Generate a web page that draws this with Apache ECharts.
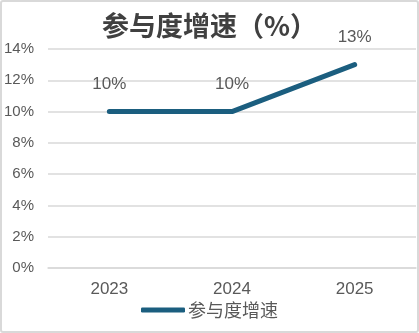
<!DOCTYPE html>
<html>
<head>
<meta charset="utf-8">
<script src="https://cdn.jsdelivr.net/npm/echarts@6/dist/echarts.min.js"></script>
<style>
  html, body { margin: 0; padding: 0; background: #fff; }
  #frame { position: absolute; left: 0; top: 0; width: 415px; height: 329px; border: 2px solid #d9d9d9; border-radius: 3px; }
  #chart { position: absolute; left: 0; top: 0; width: 419px; height: 333px; }
</style>
</head>
<body>
<div id="frame"></div>
<div id="chart"></div>
<script>
const years = ['2023', '2024', '2025'];
const growth = [10, 10, 13];
const seriesName = '参与度增速';
const yTicks = { min: 0, max: 14, step: 2 };

const chart = echarts.init(document.getElementById('chart'));
const latin = '"Liberation Sans", sans-serif';
const cjk = '"Noto Sans CJK SC", sans-serif';
const lineColor = '#1b5e7f';
chart.setOption({
  animation: false,
  title: {
    text: '参与度增速（%）',
    left: 'center',
    top: 7,
    textStyle: { fontFamily: cjk, fontSize: 27, fontWeight: 'bold', color: '#404040' }
  },
  grid: { left: 48, right: 3, top: 49, bottom: 65 },
  legend: {
    bottom: 9,
    left: 'center',
    itemWidth: 44,
    itemHeight: 5,
    icon: 'roundRect',
    itemStyle: { color: lineColor, opacity: 1 },
    textStyle: { fontFamily: cjk, fontSize: 18, color: '#595959', padding: [0, 0, 0, -2] },
    data: [seriesName]
  },
  xAxis: {
    type: 'category',
    data: years,
    axisLine: { show: true, lineStyle: { color: '#d9d9d9', width: 1.5 } },
    axisTick: { show: false },
    axisLabel: { fontFamily: latin, fontSize: 17, color: '#595959', margin: 13 }
  },
  yAxis: {
    type: 'value',
    min: yTicks.min,
    max: yTicks.max,
    interval: yTicks.step,
    axisLine: { show: false },
    axisTick: { show: false },
    splitLine: { lineStyle: { color: '#d9d9d9', width: 1.5 } },
    axisLabel: { fontFamily: latin, fontSize: 15, color: '#595959', margin: 14, formatter: v => v + '%' }
  },
  series: [{
    name: seriesName,
    type: 'line',
    data: growth,
    symbol: 'circle',
    symbolSize: 2,
    showSymbol: true,
    lineStyle: { color: lineColor, width: 5, cap: 'round' },
    itemStyle: { color: lineColor },
    label: {
      show: true,
      position: 'top',
      distance: 18,
      fontFamily: latin,
      fontSize: 17,
      color: '#595959',
      formatter: p => p.value + '%'
    }
  }]
});
</script>
</body>
</html>
